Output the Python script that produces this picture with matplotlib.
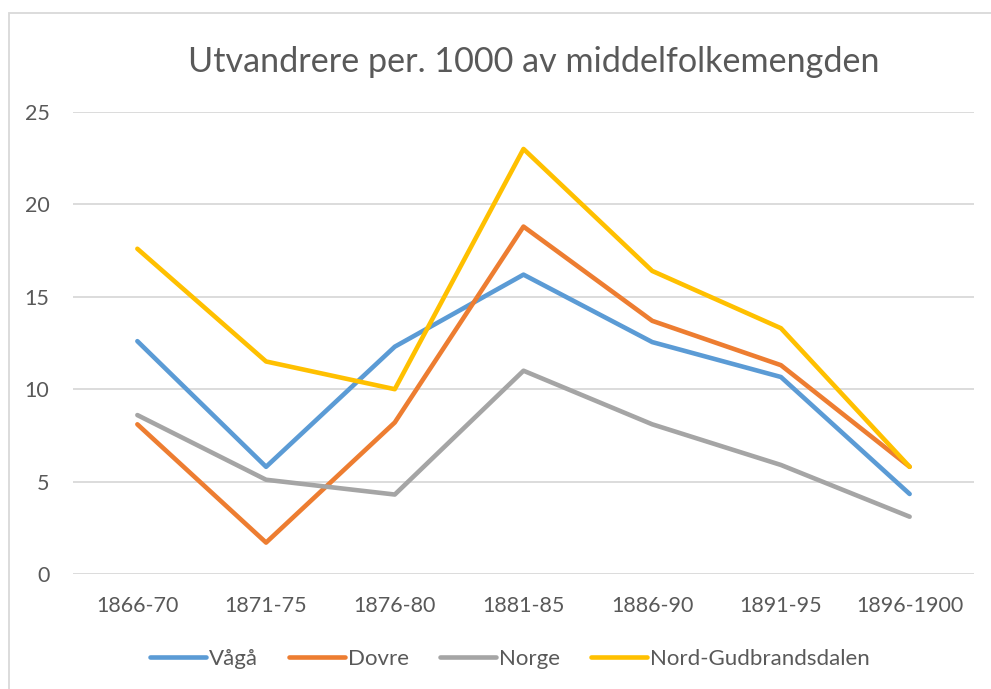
import matplotlib
matplotlib.use('Agg')
import matplotlib.pyplot as plt
from matplotlib.patches import Rectangle

periods = ['1866-70', '1871-75', '1876-80', '1881-85', '1886-90', '1891-95', '1896-1900']
vaga = [12.6, 5.8, 12.3, 16.2, 12.55, 10.66, 4.33]
dovre = [8.1, 1.7, 8.2, 18.8, 13.7, 11.3, 5.8]
norge = [8.6, 5.1, 4.3, 11.0, 8.1, 5.9, 3.1]
nord_gud = [17.6, 11.5, 10.0, 23.0, 16.4, 13.3, 5.8]

plt.rcParams['font.family'] = ['Lato', 'DejaVu Sans']
txt = '#595959'
grid = '#D9D9D9'

fig = plt.figure(figsize=(9.91, 6.89), dpi=100)
W, H = 991, 689
ax = fig.add_axes([73 / W, (H - 574) / H, (974 - 73) / W, (574 - 112) / H])

x = range(len(periods))
series = [('Vågå', vaga, '#5B9BD5'), ('Dovre', dovre, '#ED7D31'),
          ('Norge', norge, '#A5A5A5'), ('Nord-Gudbrandsdalen', nord_gud, '#FFC000')]
for name, vals, col in series:
    ax.plot(x, vals, color=col, lw=3.3, label=name, solid_capstyle='round', solid_joinstyle='round')

ax.set_xlim(-0.5, len(periods) - 0.5)
ax.set_ylim(0, 25)
ax.set_yticks([0, 5, 10, 15, 20, 25])
ax.set_xticks(list(x))
ax.set_xticklabels(periods)
ax.yaxis.grid(True, color=grid, lw=1.3)
ax.set_axisbelow(True)
for s in ax.spines.values():
    s.set_visible(False)
ax.tick_params(axis='both', length=0, labelsize=15.5, colors=txt)
ax.tick_params(axis='y', pad=17)
ax.tick_params(axis='x', pad=16)

fig.text(534 / W, (H - 62) / H, 'Utvandrere per. 1000 av middelfolkemengden',
         ha='center', va='center', fontsize=24.6, color=txt)

fig.legend(loc='center', bbox_to_anchor=(510 / W, (H - 659) / H), ncol=4, frameon=False,
           fontsize=16, labelcolor=txt, handlelength=2.5, handletextpad=0.15, columnspacing=1.4)

fig.patches.append(Rectangle((9 / W, -0.1), 1.2, (H - 13) / H + 0.1, transform=fig.transFigure,
                             fill=False, edgecolor=grid, lw=1.3, zorder=-1))

plt.savefig('out.png', dpi=100)
